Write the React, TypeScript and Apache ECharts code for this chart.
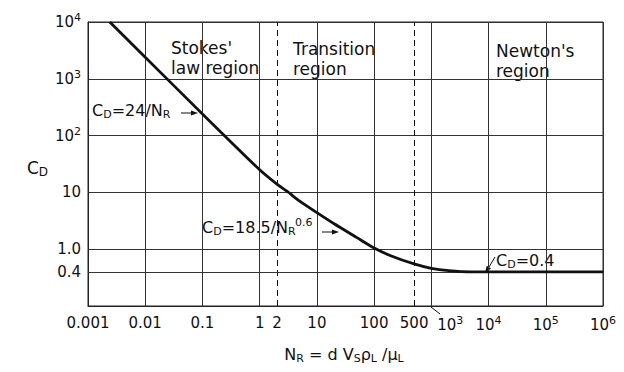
import React, { useEffect, useRef } from "react";
import * as echarts from "echarts";

// Drag coefficient of a settling sphere vs. particle Reynolds number
const reynolds = [0.0024, 0.01, 0.1, 1, 2, 3, 5, 10, 20, 50, 100, 200, 500, 1000, 2000, 5000, 10000, 100000, 1000000];
const dragCoeff = [10000, 2400, 240, 25, 14, 10.5, 7, 4.4, 2.8, 1.6, 1.05, 0.76, 0.55, 0.46, 0.42, 0.4, 0.4, 0.4, 0.4];

// Flow regime boundaries (Stokes / transition / Newton)
const regimeBounds = [2, 500];
const regimeLabels = ["2", "500"];

// Constant Newton's-law drag coefficient
const newtonDrag = 0.4;

// Axis tick labels (rich text: b = base, p = superscript, k = base pushed right)
const xTickValues = [0.001, 0.01, 0.1, 1, 10, 100, 1000, 10000, 100000, 1000000];
const xTickLabels = ["0.001", "0.01", "0.1", "1", "10", "100", "{k|10}{p|3}", "{b|10}{p|4}", "{b|10}{p|5}", "{b|10}{p|6}"];
const yTickValues = [0.1, 1, 10, 100, 1000, 10000];
const yTickLabels = ["", "1.0", "10", "{b|10}{p|2}", "{b|10}{p|3}", "{b|10}{p|4}"];

const FONT = '"DejaVu Sans", sans-serif';
const INK = "#111";

function lookup(values: number[], labels: string[], v: number): string {
  for (let i = 0; i < values.length; i++) {
    if (Math.abs(Math.log10(values[i]) - Math.log10(v)) < 1e-6) return labels[i];
  }
  return "";
}

const tickRich = {
  b: { fontSize: 15, fontFamily: FONT, color: INK },
  k: { fontSize: 15, fontFamily: FONT, color: INK, padding: [0, 0, 0, 38] },
  p: { fontSize: 11, fontFamily: FONT, color: INK, padding: [0, 0, 9, 0] },
};

const textRich = {
  m: { fontSize: 16, fontFamily: FONT, fill: INK },
  s: { fontSize: 11, fontFamily: FONT, fill: INK, padding: [9, 0, 0, 0] },
  p: { fontSize: 11, fontFamily: FONT, fill: INK, padding: [0, 0, 9, 0] },
};

function label(x: number, y: number, text: string, extra: any = {}) {
  return {
    type: "text",
    x,
    y,
    silent: true,
    style: { text, rich: textRich, fill: INK, font: `16px ${FONT}`, verticalAlign: "top", ...extra },
  };
}

function arrowHead(tip: [number, number], dir: [number, number], len = 7, half = 2.6) {
  const n = Math.hypot(dir[0], dir[1]);
  const ux = dir[0] / n;
  const uy = dir[1] / n;
  const bx = tip[0] - ux * len;
  const by = tip[1] - uy * len;
  return {
    type: "polygon",
    silent: true,
    shape: { points: [tip, [bx - uy * half, by + ux * half], [bx + uy * half, by - ux * half]] },
    style: { fill: INK },
  };
}

function seg(x1: number, y1: number, x2: number, y2: number) {
  return { type: "line", silent: true, shape: { x1, y1, x2, y2 }, style: { stroke: INK, lineWidth: 1 } };
}

export default function App() {
  const ref = useRef<HTMLDivElement>(null);

  useEffect(() => {
    if (!ref.current) return;
    const chart = echarts.init(ref.current, undefined, { renderer: "svg" });

    const markData: any[] = regimeBounds.map((v, i) => ({
      xAxis: v,
      lineStyle: { type: [6, 4], color: INK, width: 1 },
      label: { formatter: regimeLabels[i] },
    }));
    markData.push({
      yAxis: newtonDrag,
      lineStyle: { type: "solid", color: "#333", width: 1 },
      label: { formatter: "0.4", distance: 7 },
    });

    chart.setOption({
      animation: false,
      backgroundColor: "#fff",
      grid: {
        left: 88,
        right: 21,
        top: 22,
        bottom: 66,
        show: true,
        borderColor: "#222",
        borderWidth: 1,
        backgroundColor: "transparent",
      },
      xAxis: {
        type: "log",
        logBase: 10,
        min: 0.001,
        max: 1000000,
        axisLine: { show: true, lineStyle: { color: "#222", width: 1 } },
        axisTick: { show: false },
        splitLine: { show: true, lineStyle: { color: "#333", width: 1 } },
        axisLabel: {
          margin: 9,
          color: INK,
          fontSize: 15,
          fontFamily: FONT,
          formatter: (v: number) => lookup(xTickValues, xTickLabels, v),
          rich: tickRich,
        },
      },
      yAxis: {
        type: "log",
        logBase: 10,
        min: 0.1,
        max: 10000,
        axisLine: { show: true, lineStyle: { color: "#222", width: 1 } },
        axisTick: { show: false },
        splitLine: { show: true, lineStyle: { color: "#333", width: 1 } },
        axisLabel: {
          margin: 7,
          color: INK,
          fontSize: 15,
          fontFamily: FONT,
          formatter: (v: number) => lookup(yTickValues, yTickLabels, v),
          rich: tickRich,
        },
      },
      series: [
        {
          type: "line",
          data: reynolds.map((r, i) => [r, dragCoeff[i]]),
          showSymbol: false,
          smooth: 0.25,
          lineStyle: { color: INK, width: 2.8 },
          z: 5,
          markLine: {
            silent: true,
            symbol: "none",
            animation: false,
            label: {
              position: "start",
              distance: 9,
              color: INK,
              fontSize: 15,
              fontFamily: FONT,
            },
            data: markData,
          },
        },
      ],
      graphic: [
        // regime names
        label(171, 38, "Stokes'\nlaw region", { lineHeight: 20, font: `17px ${FONT}` }),
        label(293, 39, "Transition\nregion", { lineHeight: 20, font: `17px ${FONT}` }),
        label(496, 41, "Newton's\nregion", { lineHeight: 20, font: `17px ${FONT}` }),

        // Stokes' law
        label(92, 100, "{m|C}{s|D}{m|=24/N}{s|R}"),
        seg(181, 113, 191, 113),
        arrowHead([198, 113], [1, 0]),

        // transition correlation
        label(202, 217, "{m|C}{s|D}{m|=18.5/N}{s|R}"),
        label(295, 217, "0.6", { font: `11px ${FONT}` }),
        seg(322, 232, 332, 232),
        arrowHead([339, 232], [1, 0]),

        // Newton's law
        label(496, 250, "{m|C}{s|D}{m|=0.4}"),
        seg(495, 257, 489, 267),
        arrowHead([485, 273], [-6, 9]),

        // leader from the 10^3 label to its grid line
        seg(431, 307, 440, 314),

        // axis titles
        label(27, 157, "{t|C}{u|D}", {
          rich: {
            t: { fontSize: 17, fontFamily: FONT, fill: INK },
            u: { fontSize: 12, fontFamily: FONT, fill: INK, padding: [9, 0, 0, 0] },
          },
        }),
        {
          type: "text",
          x: 344,
          y: 344,
          silent: true,
          style: {
            text: "{m|N}{s|R}{m| = d V}{s|S}{m|ρ}{s|L}{m| /μ}{s|L}",
            rich: textRich,
            align: "center",
            verticalAlign: "top",
            fill: INK,
          },
        },
      ],
    });

    return () => chart.dispose();
  }, []);

  return <div ref={ref} style={{ position: "fixed", left: 0, top: 0, width: 624, height: 372 }} />;
}
